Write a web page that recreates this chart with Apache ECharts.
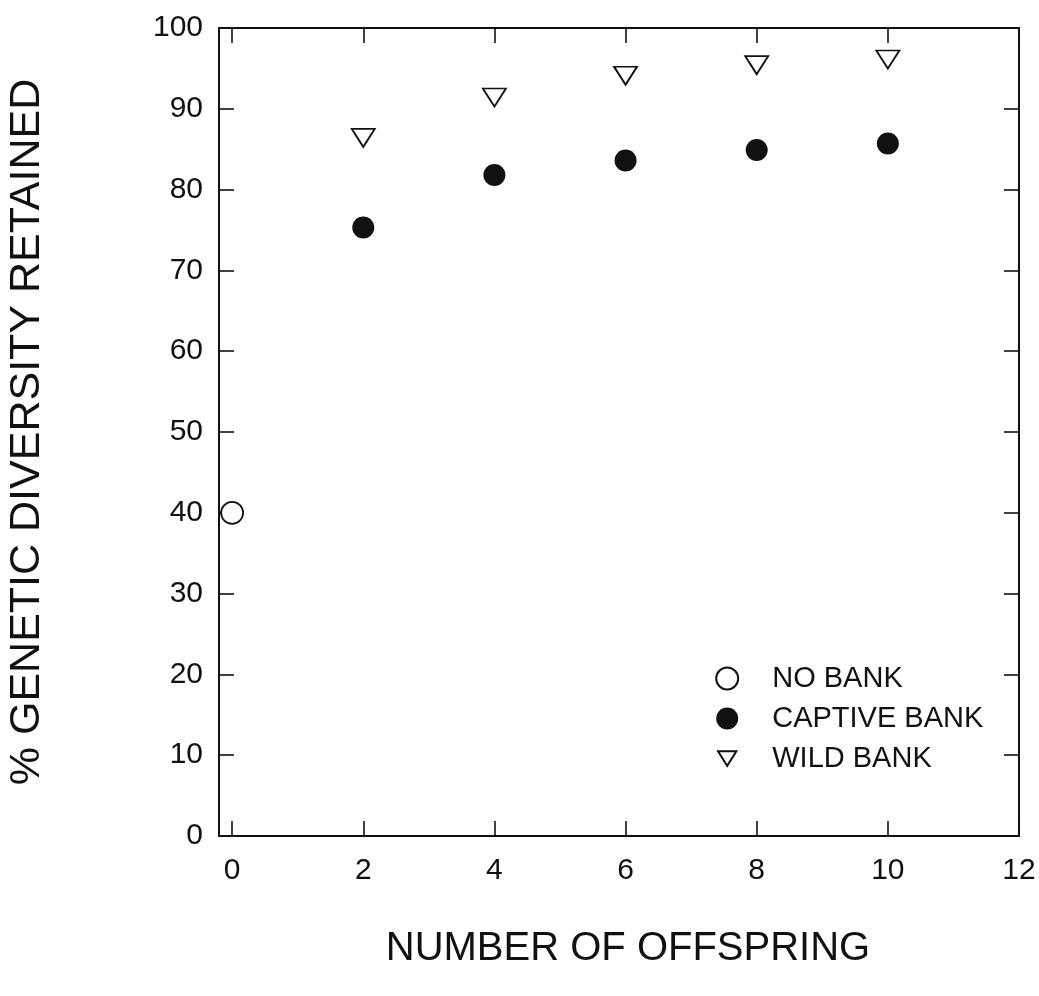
<!DOCTYPE html>
<html>
<head>
<meta charset="utf-8">
<script src="https://cdn.jsdelivr.net/npm/echarts@6/dist/echarts.min.js"></script>
<style>
html,body{margin:0;padding:0;background:#fff;}
#chart{width:1039px;height:996px;}
</style>
</head>
<body>
<div id="chart"></div>
<script>
// Data
const xTicks = [0, 2, 4, 6, 8, 10, 12];
const yTicks = [0, 10, 20, 30, 40, 50, 60, 70, 80, 90, 100];
const noBankX = [0];
const noBankY = [40];
const captiveX = [2, 4, 6, 8, 10];
const captiveY = [75.3, 81.8, 83.6, 84.9, 85.7];
const wildX = [2, 4, 6, 8, 10];
const wildY = [86.4, 91.4, 94.1, 95.4, 96.1];

const FONT = '"Liberation Sans", Arial, sans-serif';
const INK = '#111';
const triDown = 'path://M0,0 L10,0 L5,8 Z';
const triDownLegend = 'path://M-2.2,-2 M0,0 L10,0 L5,8 Z M12.2,10';

const pairs = (xs, ys) => xs.map((x, i) => [x, ys[i]]);

const chart = echarts.init(document.getElementById('chart'), null, {renderer: 'canvas'});

const axisLine = {show: true, onZero: false, lineStyle: {color: INK, width: 2}};
const tickStyle = {color: INK, width: 1.6};

chart.setOption({
  backgroundColor: '#fff',
  animation: false,
  grid: {left: 219, top: 28, right: 20, bottom: 160, containLabel: false, outerBoundsMode: 'none'},
  xAxis: [
    {
      type: 'value', position: 'bottom', min: -0.2, max: 12,
      axisLine: axisLine,
      axisTick: {show: true, inside: true, length: 15, lineStyle: tickStyle, customValues: xTicks},
      axisLabel: {show: true, customValues: xTicks, margin: 20, fontSize: 30, fontFamily: FONT, color: INK},
      splitLine: {show: false},
      name: 'NUMBER OF OFFSPRING', nameLocation: 'middle', nameGap: 93,
      nameTextStyle: {fontSize: 40, fontFamily: FONT, color: INK, padding: [0, 0, 0, 18]}
    },
    {
      type: 'value', position: 'top', min: -0.2, max: 12,
      axisLine: axisLine,
      axisTick: {show: true, inside: true, length: 15, lineStyle: tickStyle, customValues: xTicks},
      axisLabel: {show: false},
      splitLine: {show: false}
    }
  ],
  yAxis: [
    {
      type: 'value', position: 'left', min: 0, max: 100, interval: 10,
      axisLine: axisLine,
      axisTick: {show: true, inside: true, length: 15, lineStyle: tickStyle},
      axisLabel: {show: true, margin: 16, fontSize: 30, fontFamily: FONT, color: INK,
        customValues: yTicks},
      splitLine: {show: false},
      name: '% GENETIC DIVERSITY RETAINED', nameLocation: 'middle', nameGap: 170, nameRotate: 90,
      nameTextStyle: {fontSize: 43, fontFamily: FONT, color: INK}
    },
    {
      type: 'value', position: 'right', min: 0, max: 100, interval: 10,
      axisLine: axisLine,
      axisTick: {show: true, inside: true, length: 15, lineStyle: tickStyle},
      axisLabel: {show: false},
      splitLine: {show: false}
    }
  ],
  legend: {
    orient: 'vertical',
    left: 708, top: 659,
    itemWidth: 80, itemHeight: 22, itemGap: 11,
    symbolKeepAspect: true,
    textStyle: {fontSize: 29, fontFamily: FONT, color: INK},
    data: ['NO BANK', 'CAPTIVE BANK', {name: 'WILD BANK', icon: triDownLegend}]
  },
  series: [
    {
      name: 'NO BANK', type: 'scatter', xAxisIndex: 0, yAxisIndex: 0,
      symbol: 'circle', symbolSize: 22,
      itemStyle: {color: '#fff', borderColor: INK, borderWidth: 1.8, opacity: 1},
      data: pairs(noBankX, noBankY)
    },
    {
      name: 'CAPTIVE BANK', type: 'scatter', xAxisIndex: 0, yAxisIndex: 0,
      symbol: 'circle', symbolSize: 22,
      itemStyle: {color: INK, borderColor: INK, borderWidth: 0, opacity: 1},
      data: pairs(captiveX, captiveY)
    },
    {
      name: 'WILD BANK', type: 'scatter', xAxisIndex: 0, yAxisIndex: 0,
      symbol: triDown, symbolSize: [23, 18],
      itemStyle: {color: '#fff', borderColor: INK, borderWidth: 1.8, opacity: 1},
      data: pairs(wildX, wildY)
    }
  ]
});
</script>
</body>
</html>
